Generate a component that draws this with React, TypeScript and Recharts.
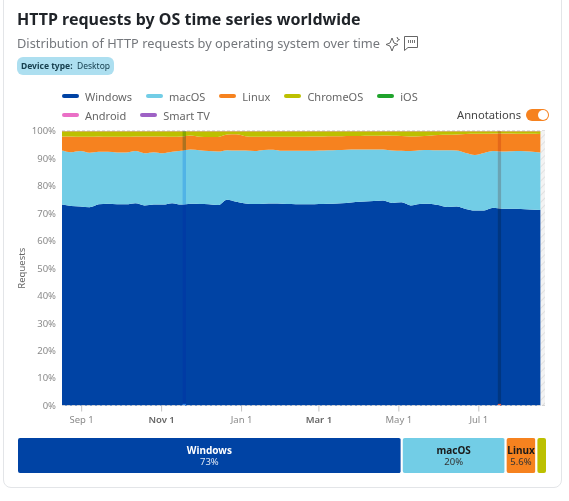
import { Area, AreaChart, Bar, BarChart, CartesianGrid, LabelList, ReferenceArea, XAxis, YAxis } from "recharts";

const FONT = '"Noto Sans", sans-serif';

// weeks since mid August, last one is the end of the 365 day window
const days = [
  0, 7, 14, 21, 28, 35, 42, 49, 56, 63, 70, 77, 84, 91, 98, 105, 112, 119, 126, 133, 140, 147, 154, 161, 168, 175, 182,
  189, 196, 203, 210, 217, 224, 231, 238, 245, 252, 259, 266, 273, 280, 287, 294, 301, 308, 315, 322, 329, 336, 343,
  350, 357, 365,
];
const windows = [
  73.2, 72.7, 72.5, 72.2, 73.3, 73.5, 73.3, 73.3, 73.7, 72.9, 73.2, 73.2, 73.7, 73.2, 73.5, 73.4, 73.3, 73.0, 75.0,
  74.2, 73.6, 73.4, 73.5, 73.6, 73.5, 73.4, 73.3, 73.3, 73.4, 73.5, 73.6, 73.8, 74.1, 74.3, 74.5, 74.7, 73.8, 74.0,
  72.9, 73.4, 73.5, 73.0, 72.3, 72.5, 71.6, 71.0, 71.0, 72.0, 71.7, 71.7, 71.6, 71.4, 71.2,
];
const macOS = [
  19.7, 19.6, 20.2, 19.9, 19.1, 18.9, 18.9, 18.9, 19.0, 19.0, 19.1, 18.7, 18.7, 19.6, 19.8, 19.6, 19.4, 19.5, 18.0,
  18.7, 19.3, 19.3, 19.6, 19.6, 19.3, 19.4, 19.5, 19.5, 19.5, 19.5, 19.5, 19.4, 19.2, 19.0, 18.8, 18.6, 19.1, 18.8,
  19.8, 19.6, 19.6, 20.0, 20.7, 20.4, 20.4, 20.3, 21.0, 20.7, 20.8, 20.9, 21.1, 21.1, 21.0,
];
const linux = [
  5.1, 5.7, 5.2, 5.8, 5.6, 5.5, 5.7, 5.7, 5.3, 6.1, 5.7, 6.1, 5.5, 5.2, 5.1, 4.9, 5.1, 5.3, 5.7, 5.9, 5.2, 5.2, 4.8,
  4.7, 5.1, 5.1, 5.1, 5.2, 5.1, 5.1, 5.0, 5.0, 4.9, 5.0, 5.0, 5.1, 5.4, 5.4, 5.3, 5.1, 5.2, 5.5, 5.6, 5.8, 6.9, 7.7,
  7.0, 6.4, 6.6, 6.5, 6.3, 6.5, 6.7,
];
const chromeOS = [
  1.9, 1.9, 2.0, 2.0, 1.9, 2.0, 2.0, 2.0, 1.9, 1.9, 1.9, 1.9, 2.0, 1.9, 1.5, 2.0, 2.1, 2.1, 1.2, 1.1, 1.8, 2.0, 2.0,
  2.0, 2.0, 2.0, 2.0, 1.9, 1.9, 1.8, 1.8, 1.7, 1.7, 1.6, 1.6, 1.5, 1.6, 1.7, 1.9, 1.8, 1.6, 1.4, 1.3, 1.2, 1.0, 0.9,
  0.9, 0.8, 0.8, 0.8, 0.9, 0.9, 1.0,
];
// the three small ones are under a tenth of a percent, barely a hairline on top
const ios = days.map(() => 0.04);
const android = days.map(() => 0.03);
const smartTv = days.map(() => 0.03);

const yTicks = [0, 10, 20, 30, 40, 50, 60, 70, 80, 90, 100];
const xTicks = [15, 76, 137, 196, 257, 318];
const xTickLabels = ["Sep 1", "Nov 1", "Jan 1", "Mar 1", "May 1", "Jul 1"];
const boldTicks = ["Nov 1", "Mar 1"];

const shareNames = ["Windows", "macOS", "Linux", "ChromeOS"];
const shareValues = [72.6, 19.6, 5.8, 2.0];
const shareLabels = ["73%", "20%", "5.6%", ""];

const seriesList = [
  { key: "windows", name: "Windows", color: "#0043a4", values: windows },
  { key: "macOS", name: "macOS", color: "#72cde6", values: macOS },
  { key: "linux", name: "Linux", color: "#f6821f", values: linux },
  { key: "chromeOS", name: "ChromeOS", color: "#bcc000", values: chromeOS },
  { key: "ios", name: "iOS", color: "#1fa32c", values: ios },
  { key: "android", name: "Android", color: "#ea6fc6", values: android },
  { key: "smartTv", name: "Smart TV", color: "#9e62c5", values: smartTv },
];

const chartData = days.map((day, i) => {
  const row: Record<string, number> = { day };
  for (const s of seriesList) row[s.key] = s.values[i];
  return row;
});

const shareRow: Record<string, number | string> = { name: "share" };
shareNames.forEach((n, i) => (shareRow[n] = shareValues[i]));

function XTick({ x, y, payload }: any) {
  const label = xTickLabels[xTicks.indexOf(payload.value)];
  const bold = boldTicks.includes(label);
  return (
    <text x={x} y={y + 9} textAnchor="middle" fontSize={9.5} fontFamily={FONT} fontWeight={bold ? 600 : 400} fill={bold ? "#666" : "#8a8a8a"}>
      {label}
    </text>
  );
}

function LegendRow({ items, top }: { items: typeof seriesList; top: number }) {
  return (
    <div style={{ position: "absolute", left: 62, top, display: "flex", gap: 14, alignItems: "center", height: 16 }}>
      {items.map((s) => (
        <div key={s.key} style={{ display: "flex", alignItems: "center", gap: 6, color: "#666", fontSize: 11 }}>
          <span style={{ width: 17, height: 4, borderRadius: 2, background: s.color, display: "inline-block" }} />
          {s.name}
        </div>
      ))}
    </div>
  );
}

function shareLabel(i: number) {
  return ({ x, y, width, height }: any) => {
    if (!shareLabels[i]) return null;
    const fill = i === 0 ? "#fff" : "#1a1a1a";
    const cx = x + width / 2;
    return (
      <g fontFamily={FONT} textAnchor="middle">
        <text x={cx} y={y + height / 2 - 2} fontSize={10} fontWeight={700} fill={fill}>
          {shareNames[i]}
        </text>
        <text x={cx} y={y + height / 2 + 9.5} fontSize={9.5} fill={i === 0 ? "#dfe8f5" : "#333"}>
          {shareLabels[i]}
        </text>
      </g>
    );
  };
}

export default function App() {
  return (
    <div style={{ position: "absolute", left: 0, top: 0, width: 569, height: 501, overflow: "hidden", background: "#fff", fontFamily: FONT }}>
      <div style={{ position: "absolute", left: 3, top: -12, width: 557, height: 498, border: "1px solid #e3e5e8", borderRadius: 8 }} />

      <div style={{ position: "absolute", left: 17, top: 8, fontSize: 16, fontWeight: 700, color: "#1f2328", whiteSpace: "nowrap" }}>
        HTTP requests by OS time series worldwide
      </div>
      <div style={{ position: "absolute", left: 17, top: 34, fontSize: 12.8, color: "#74777c", whiteSpace: "nowrap" }}>
        Distribution of HTTP requests by operating system over time
      </div>
      <svg style={{ position: "absolute", left: 385, top: 35 }} width={34} height={18} fill="none" stroke="#666" strokeWidth={1}>
        <path d="M7 3 L9 8 L13 9.5 L9 11 L7 16 L5 11 L1 9.5 L5 8 Z" />
        <path d="M12 2 L12.8 4 L14.5 4.6 L12.8 5.2 L12 7" />
        <path d="M19.5 1.5 H32.5 V12.5 H23 L19.5 15.5 Z" />
        <path d="M23.5 5 V8 M25.5 5 V8 M27.5 5 V8 M29.5 5 V8" strokeWidth={0.9} />
      </svg>
      <div style={{ position: "absolute", left: 17, top: 57, width: 97, height: 18, borderRadius: 6, background: "#addff0", color: "#17404f", fontSize: 8.5, lineHeight: "18px", textAlign: "center", whiteSpace: "nowrap" }}>
        <b>Device type:</b>&nbsp; Desktop
      </div>

      <LegendRow items={seriesList.slice(0, 5)} top={88} />
      <LegendRow items={seriesList.slice(5)} top={107} />
      <div style={{ position: "absolute", left: 457, top: 107, height: 16, lineHeight: "16px", fontSize: 11.2, color: "#444" }}>Annotations</div>
      <div style={{ position: "absolute", left: 526, top: 109, width: 23, height: 12, borderRadius: 6, background: "#f6821f" }}>
        <div style={{ position: "absolute", right: 1, top: 1, width: 10, height: 10, borderRadius: 5, background: "#fff" }} />
      </div>

      <div style={{ position: "absolute", left: 0, top: 120 }}>
        <AreaChart width={569} height={310} data={chartData} margin={{ top: 11, right: 24, bottom: 0, left: 22 }}>
          <defs>
            <pattern id="hatch" width={5} height={5} patternUnits="userSpaceOnUse" patternTransform="rotate(45)">
              <rect width={5} height={5} fill="#f3f3f3" />
              <line x1={0} y1={0} x2={0} y2={5} stroke="#e2e2e2" strokeWidth={2} />
            </pattern>
          </defs>
          <CartesianGrid horizontal vertical={false} stroke="#d4d4d4" strokeDasharray="3 2" />
          <XAxis
            dataKey="day"
            type="number"
            domain={[0, 368.5]}
            ticks={xTicks}
            tick={<XTick />}
            tickLine={{ stroke: "#c4c4c4" }}
            axisLine={{ stroke: "#d4d4d4", strokeDasharray: "3 2" }}
            height={24.5}
            tickSize={6}
            interval={0}
          />
          <YAxis
            type="number"
            domain={[0, 100]}
            ticks={yTicks}
            tickFormatter={(v: number) => `${v}%`}
            tick={{ fontSize: 9.5, fill: "#8a8a8a", fontFamily: FONT }}
            tickLine={false}
            axisLine={false}
            width={40}
            tickMargin={0}
            label={{ value: "Requests", angle: -90, position: "insideLeft", offset: 0, dx: 0, style: { fontSize: 9.5, fill: "#666", fontFamily: FONT, textAnchor: "middle" } }}
          />
          <ReferenceArea x1={365} x2={368.5} y1={0} y2={100} fill="url(#hatch)" fillOpacity={1} stroke="none" />
          {seriesList.map((s) => (
            <Area
              key={s.key}
              type="monotone"
              dataKey={s.key}
              name={s.name}
              stackId="os"
              stroke="none"
              fill={s.color}
              fillOpacity={1}
              dot={false}
              activeDot={false}
              isAnimationActive={false}
            />
          ))}
          <ReferenceArea x1={92} x2={94.6} y1={0} y2={100} fill="#b4dfff" fillOpacity={1} stroke="none" style={{ mixBlendMode: "multiply" }} />
          <ReferenceArea x1={332.5} x2={335} y1={0} y2={100} fill="#eeccc8" fillOpacity={1} stroke="none" style={{ mixBlendMode: "multiply" }} />
          <ReferenceArea x1={92} x2={94.6} y1={0} y2={0.6} fill="#2f80e0" fillOpacity={1} stroke="none" />
          <ReferenceArea x1={332.5} x2={335} y1={0} y2={0.6} fill="#e2604a" fillOpacity={1} stroke="none" />
        </AreaChart>
      </div>

      <div style={{ position: "absolute", left: 17, top: 437 }}>
        <BarChart width={530} height={37} layout="vertical" data={[shareRow]} margin={{ top: 0, right: 0, bottom: 0, left: 0 }} barCategoryGap={0}>
          <XAxis type="number" domain={[0, 100]} hide />
          <YAxis type="category" dataKey="name" hide />
          {shareNames.map((n, i) => (
            <Bar key={n} dataKey={n} stackId="share" fill={seriesList[i].color} stroke="#fff" strokeWidth={2} radius={3} isAnimationActive={false}>
              <LabelList dataKey={n} content={shareLabel(i)} />
            </Bar>
          ))}
        </BarChart>
      </div>
    </div>
  );
}
